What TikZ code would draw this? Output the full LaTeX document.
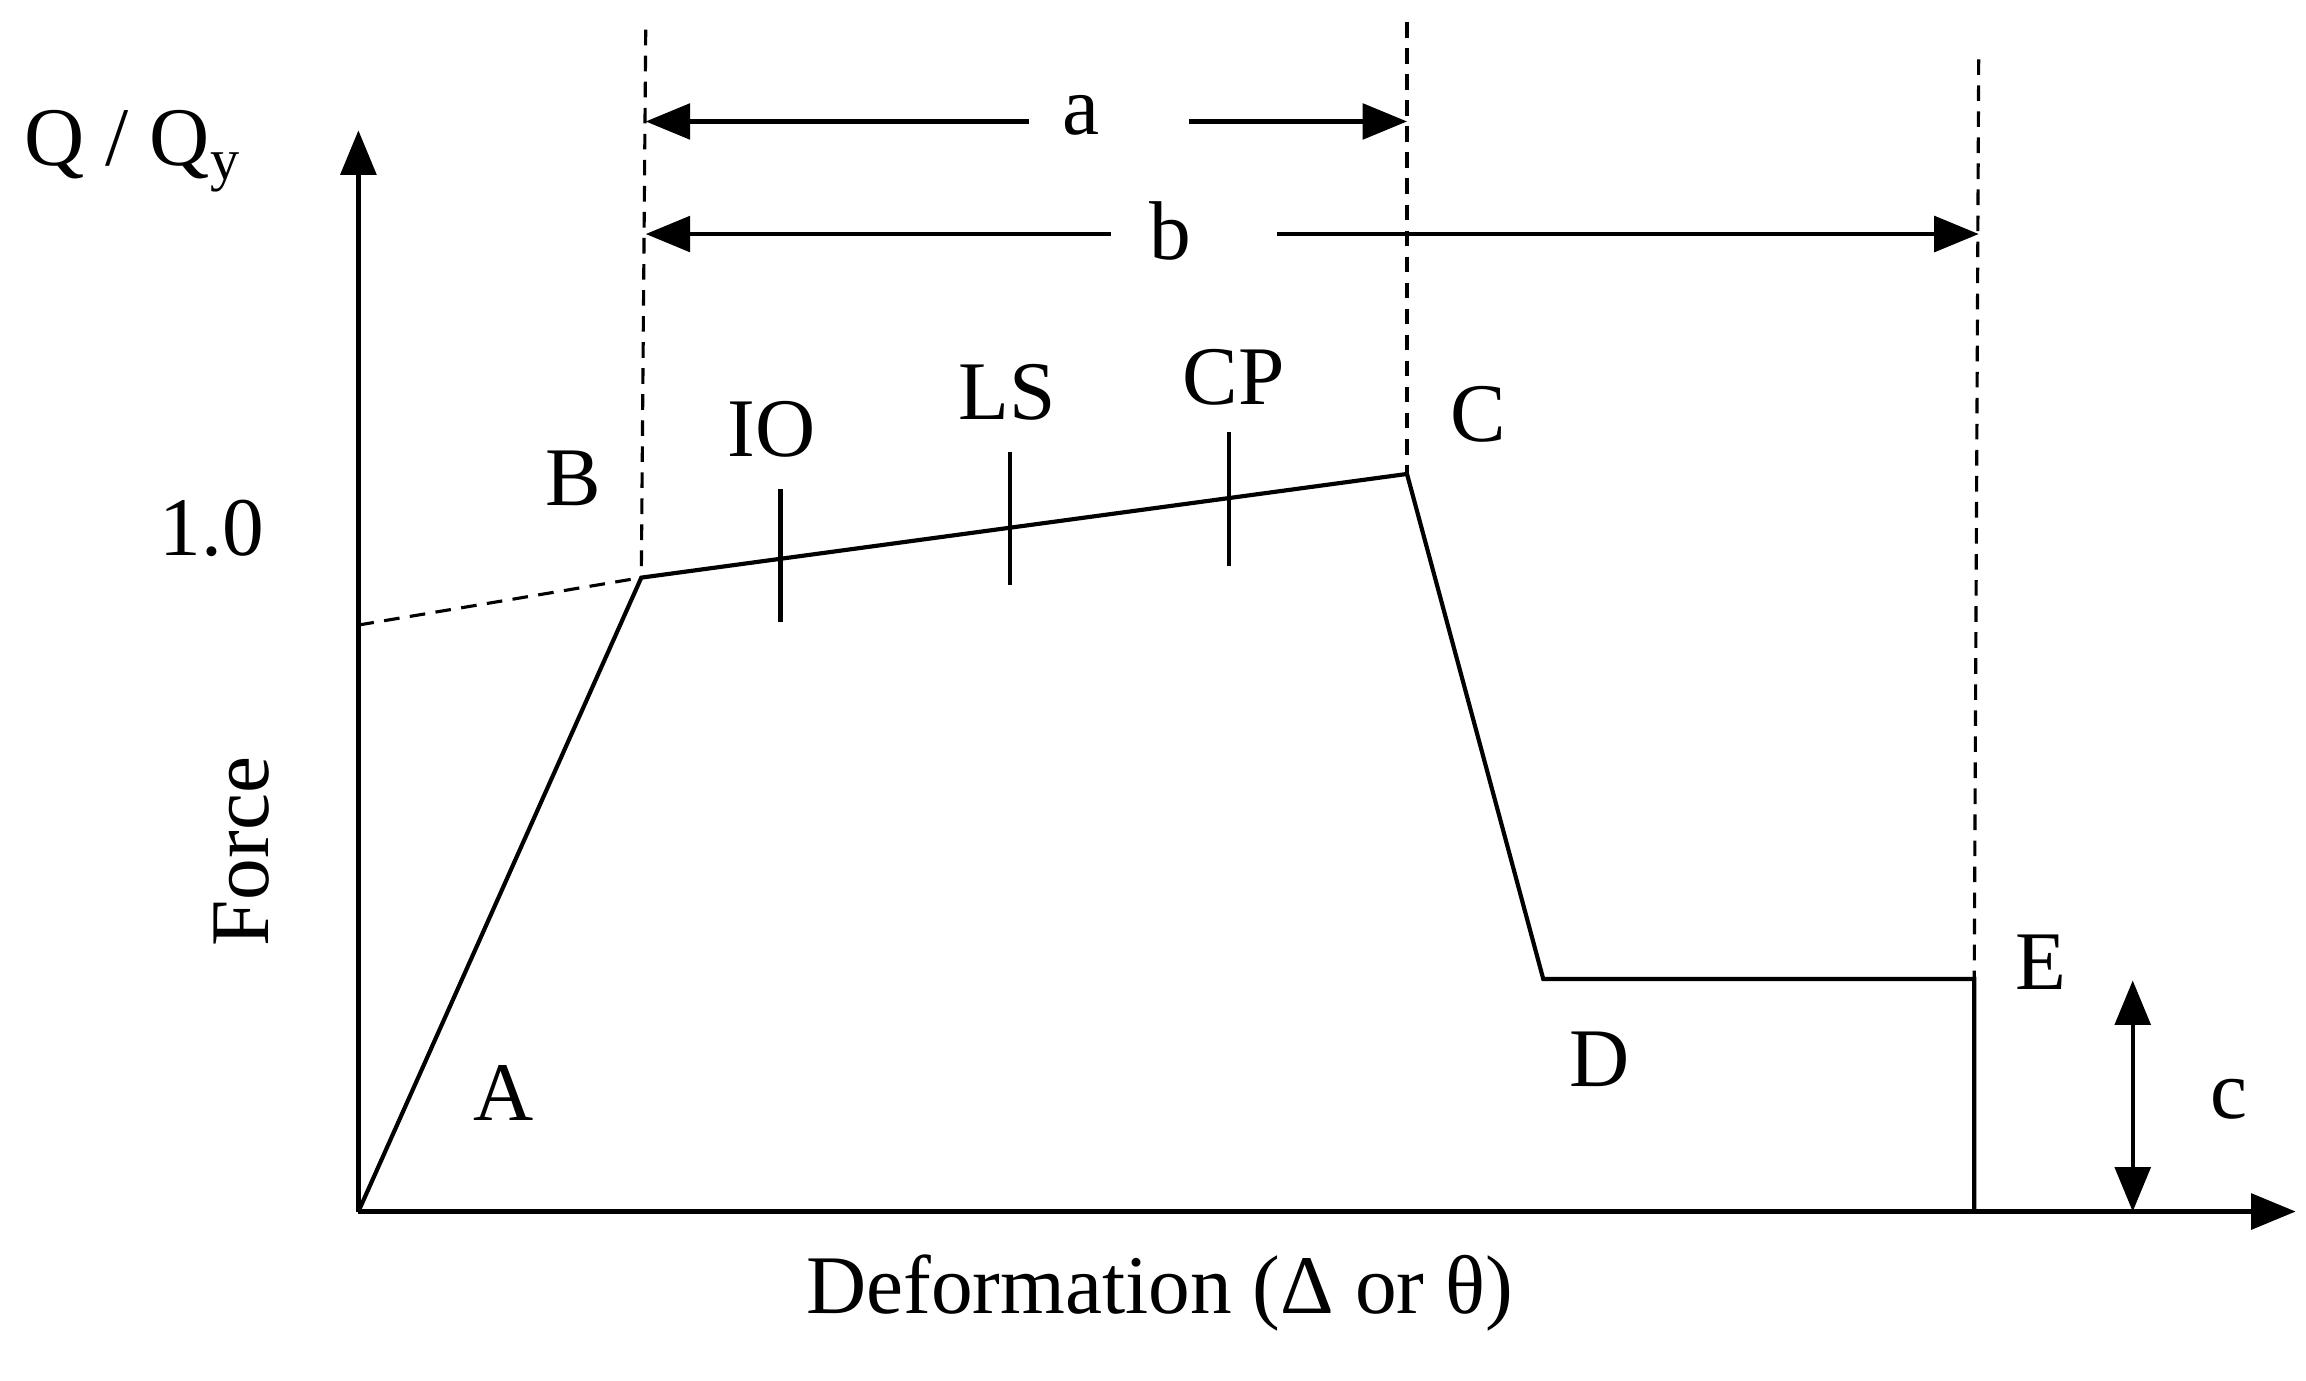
\documentclass[tikz,border=0pt]{standalone}
\usepackage{fontspec}
\setmainfont{Liberation Serif}
\usetikzlibrary{arrows.meta}
\begin{document}
\begin{tikzpicture}[
  x=0.01cm,y=-0.01cm,>={Triangle[length=0.3cm,width=0.24cm]},
  every node/.style={font=\fontsize{16}{19}\selectfont},
  curve/.style={line width=0.8pt},
  guide/.style={densely dashed,line width=0.6pt},
  dim/.style={<->,line width=0.8pt}
]
  \useasboundingbox (0,0) rectangle (1557,932);
  % Axes
  \coordinate (O) at (242,818);
  \coordinate (Ytop) at (242,88);
  \coordinate (Xend) at (1550,818);
  \draw[->,line width=0.8pt] (O) -- (Ytop);
  \draw[->,line width=0.8pt] (O) -- (Xend);

  % Backbone curve points
  \coordinate (B) at (433,390);
  \coordinate (C) at (950,320);
  \coordinate (D) at (1042,661);
  \coordinate (E) at (1333,661);
  \coordinate (Ebase) at (1333,818);
  \coordinate (Yint) at (242,422);
  \draw[curve] (O) -- (B) -- (C) -- (D) -- (E) -- (Ebase);
  \draw[guide] (Yint) -- (B);

  % Vertical guides
  \coordinate (gB) at (436,20);
  \coordinate (gC) at (950,15);
  \coordinate (gE) at (1336,40);
  \draw[guide] (gB) -- (B);
  \draw[guide] (gC) -- (C);
  \draw[guide] (gE) -- (E);

  % Dimension arrows a and b
  \draw[dim] (436,82) -- (950,82);
  \fill[white] (695,70) rectangle (803,95);
  \draw[dim] (436,158) -- (1336,158);
  \fill[white] (750,146) rectangle (862,171);
  \node (a) at (730,78) {a};
  \node (b) at (790,156) {b};

  % Performance levels
  \foreach \px/\py in {527/375, 682/350, 830/337}
    \draw[curve] (\px,\py-45) -- (\px,\py+45);
  \node (IO) at (521,290) {IO};
  \node (LS) at (680,265) {LS};
  \node (CP) at (833,255) {CP};

  % Residual strength c
  \coordinate (cTop) at (1440,662);
  \coordinate (cBot) at (1440,818);
  \draw[dim] (cTop) -- (cBot);
  \node (c) at (1505,742) {c};

  % Point labels
  \node (lA) at (340,738) {A};
  \node (lB) at (387,323) {B};
  \node (lC) at (998,280) {C};
  \node (lD) at (1080,715) {D};
  \node (lE) at (1378,650) {E};
  \node (one) at (143,357) {1.0};

  % Axis labels
  \node[rotate=90] (force) at (163,575) {Force};
  \node (deform) at (783,873) {Deformation (Δ or θ)};
  \node (qqy) at (90,102) {Q / Q\textsubscript{y}};
\end{tikzpicture}
\end{document}
